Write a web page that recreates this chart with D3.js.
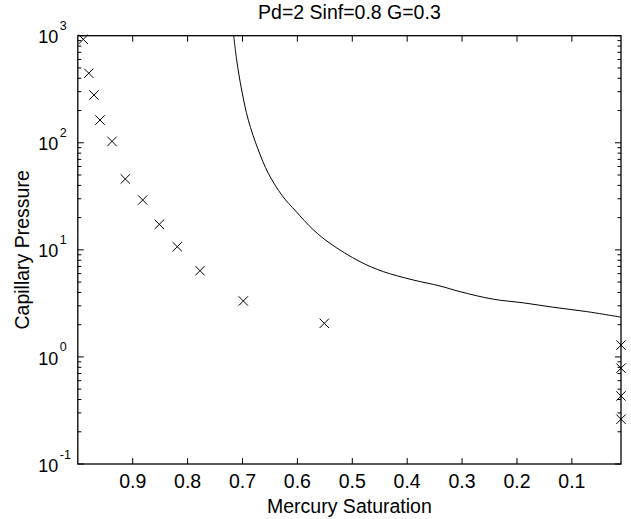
<!DOCTYPE html>
<html>
<head>
<meta charset="utf-8">
<script src="https://cdn.jsdelivr.net/npm/d3@7.9.0/dist/d3.min.js"></script>
<style>
  body { margin: 0; background: #fff; }
  svg { display: block; font-family: "Liberation Sans", Arial, sans-serif; }
</style>
</head>
<body>
<svg id="chart" width="631" height="519"></svg>
<script>
// measured points (x marks)
const sampleSat = [0.990, 0.980, 0.9705, 0.9596, 0.9377, 0.9135, 0.8818, 0.8515, 0.8188, 0.7774, 0.6985, 0.551, 0.0105, 0.0105, 0.0105, 0.0105];
const samplePc = [925, 446, 279, 163, 103, 45.9, 29.2, 17.3, 10.7, 6.39, 3.33, 2.06, 1.29, 0.785, 0.432, 0.262];

// fitted curve
const curveSat = [0.7160, 0.7106, 0.7015, 0.6894, 0.6712, 0.6530, 0.6275, 0.6030, 0.5710, 0.5406, 0.4860, 0.4435, 0.3889, 0.3403, 0.3038, 0.2432, 0.1885, 0.1339, 0.0730, 0.0105];
const curvePc = [1000, 593, 311, 163, 85.7, 51.9, 32.0, 23.0, 15.4, 11.5, 7.76, 6.26, 5.23, 4.60, 4.07, 3.46, 3.20, 2.91, 2.65, 2.35];

const xTicks = [0.9, 0.8, 0.7, 0.6, 0.5, 0.4, 0.3, 0.2, 0.1];
const yDecades = [-1, 0, 1, 2, 3];

const titleText = 'Pd=2 Sinf=0.8 G=0.3';
const xLabel = 'Mercury Saturation';
const yLabel = 'Capillary Pressure';

const W = 631, H = 519;
const margin = { top: 35.7, right: 10, bottom: 55, left: 77.8 };
const fs = 19.5;
const svg = d3.select('#chart');

const x = d3.scaleLinear()
  .domain([1, d3.min(sampleSat)])
  .range([margin.left, W - margin.right]);
const y = d3.scaleLog()
  .domain([0.1, 1000])
  .range([H - margin.bottom, margin.top]);

const x0 = x.range()[0], x1 = x.range()[1];
const y0 = y.range()[0], y1 = y.range()[1];

svg.append('clipPath').attr('id', 'plotclip')
  .append('rect')
  .attr('x', x0).attr('y', y1)
  .attr('width', x1 - x0).attr('height', y0 - y1);

// ticks, pointing inward on all four sides
const ticks = svg.append('g').attr('stroke', '#000').attr('stroke-width', 1);
xTicks.forEach(t => {
  const px = x(t);
  ticks.append('line').attr('x1', px).attr('x2', px).attr('y1', y0).attr('y2', y0 - 6);
  ticks.append('line').attr('x1', px).attr('x2', px).attr('y1', y1).attr('y2', y1 + 6);
});
y.ticks().forEach(t => {
  const py = y(t);
  const major = Math.abs(Math.log10(t) - Math.round(Math.log10(t))) < 1e-9;
  const len = major ? 6 : 3.5;
  ticks.append('line').attr('x1', x0).attr('x2', x0 + len).attr('y1', py).attr('y2', py);
  ticks.append('line').attr('x1', x1).attr('x2', x1 - len).attr('y1', py).attr('y2', py);
});

// box
svg.append('rect')
  .attr('x', x0).attr('y', y1)
  .attr('width', x1 - x0).attr('height', y0 - y1)
  .attr('fill', 'none').attr('stroke', '#000').attr('stroke-width', 1.3);

// x tick labels
svg.append('g').selectAll('text')
  .data(xTicks)
  .join('text')
  .attr('x', d => x(d))
  .attr('y', y0 + 24)
  .attr('text-anchor', 'middle')
  .attr('font-size', fs)
  .text(d => d3.format('.1f')(d));

// y tick labels: 10 with superscript exponent
const yl = svg.append('g');
yDecades.forEach(e => {
  const py = y(Math.pow(10, e));
  yl.append('text')
    .attr('x', margin.left - 19.5)
    .attr('y', py + 7.6)
    .attr('text-anchor', 'end')
    .attr('font-size', 18)
    .text('10');
  yl.append('text')
    .attr('x', margin.left - 18)
    .attr('y', py - 5.5)
    .attr('font-size', 12.5)
    .text(e);
});

// fitted curve
const line = d3.line()
  .x((d, i) => x(curveSat[i]))
  .y((d, i) => y(curvePc[i]))
  .curve(d3.curveCatmullRom.alpha(0.5));
svg.append('path')
  .datum(curveSat)
  .attr('d', line)
  .attr('fill', 'none')
  .attr('stroke', '#000')
  .attr('stroke-width', 1)
  .attr('clip-path', 'url(#plotclip)');

// x markers
const r = 4.7;
svg.append('g').selectAll('path')
  .data(sampleSat)
  .join('path')
  .attr('transform', (d, i) => `translate(${x(d)},${y(samplePc[i])})`)
  .attr('d', `M${-r},${-r}L${r},${r}M${-r},${r}L${r},${-r}`)
  .attr('stroke', '#000')
  .attr('stroke-width', 1)
  .attr('fill', 'none');

// labels
svg.append('text')
  .attr('x', (x0 + x1) / 2).attr('y', 19.3)
  .attr('text-anchor', 'middle').attr('font-size', fs)
  .text(titleText);

svg.append('text')
  .attr('x', (x0 + x1) / 2).attr('y', 512.5)
  .attr('text-anchor', 'middle').attr('font-size', fs)
  .text(xLabel);

svg.append('text')
  .attr('transform', `translate(29,${(y0 + y1) / 2}) rotate(-90)`)
  .attr('text-anchor', 'middle').attr('font-size', fs)
  .text(yLabel);
</script>
</body>
</html>
